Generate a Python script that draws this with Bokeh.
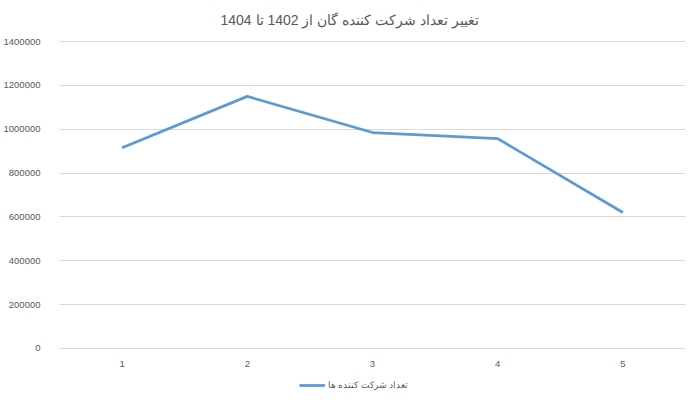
from bokeh.plotting import figure
from bokeh.layouts import column
from bokeh.models import Range1d, FixedTicker, BasicTickFormatter, Legend, LegendItem
from bokeh.embed import file_html
from bokeh.resources import INLINE

title_text = "تغییر تعداد شرکت کننده گان از 1402 تا 1404"
series_name = "تعداد شرکت کننده ها"
categories = [1, 2, 3, 4, 5]
participants = [916000, 1150000, 985000, 957000, 620000]
y_ticks = [0, 200000, 400000, 600000, 800000, 1000000, 1200000, 1400000]

FONT = "Liberation Sans"
TXT = "#595959"
BLUE = "#5B9BD5"

p = figure(width=700, height=372, output_backend="svg", toolbar_location=None,
           x_range=Range1d(0.5, 5.5), y_range=Range1d(-5000, 1405000),
           min_border_left=54, min_border_right=15, min_border_top=40, min_border_bottom=23)
p.outline_line_color = None
p.background_fill_color = "white"
p.border_fill_color = "white"

p.title.text = title_text
p.title.align = "left"
p.title.vertical_align = "top"
p.title.offset = 161
p.title.standoff = 21
p.title.text_font = FONT
p.title.text_font_size = "14px"
p.title.text_font_style = "normal"
p.title.text_color = TXT

p.line(categories, participants, line_color=BLUE, line_width=2.75)

p.xaxis.ticker = FixedTicker(ticks=categories)
p.yaxis.ticker = FixedTicker(ticks=y_ticks)
p.yaxis.formatter = BasicTickFormatter(use_scientific=False)
for ax in (p.xaxis[0], p.yaxis[0]):
    ax.axis_line_color = None
    ax.major_tick_line_color = None
    ax.minor_tick_line_color = None
    ax.major_label_text_font = FONT
    ax.major_label_text_font_size = "9.5px"
    ax.major_label_text_color = TXT
p.yaxis.major_label_standoff = 13
p.xaxis.major_label_standoff = 5

p.xgrid.grid_line_color = None
p.ygrid.grid_line_color = "#D9D9D9"
p.ygrid.grid_line_width = 1

# legend strip below the chart (series drawn off-range so only its legend entry shows)
lg = figure(width=700, height=30, output_backend="svg", toolbar_location=None,
            x_range=Range1d(0, 1), y_range=Range1d(0, 1),
            x_axis_type=None, y_axis_type=None,
            min_border_left=0, min_border_right=0, min_border_top=0, min_border_bottom=0)
lg.outline_line_color = None
lg.xgrid.grid_line_color = None
lg.ygrid.grid_line_color = None
lg.border_fill_color = "white"
r2 = lg.line(categories, participants, line_color=BLUE, line_width=2.75)

legend = Legend(items=[LegendItem(label=series_name, renderers=[r2])],
                orientation="horizontal", location=(240, 12),
                border_line_color=None, background_fill_alpha=0,
                label_text_font=FONT, label_text_font_size="8.5px", label_text_color=TXT,
                glyph_width=26, glyph_height=10, padding=2, margin=0, spacing=0,
                label_standoff=3)
lg.add_layout(legend)

layout = column(p, lg, spacing=0)
open("out.html", "w").write(file_html(layout, INLINE))
